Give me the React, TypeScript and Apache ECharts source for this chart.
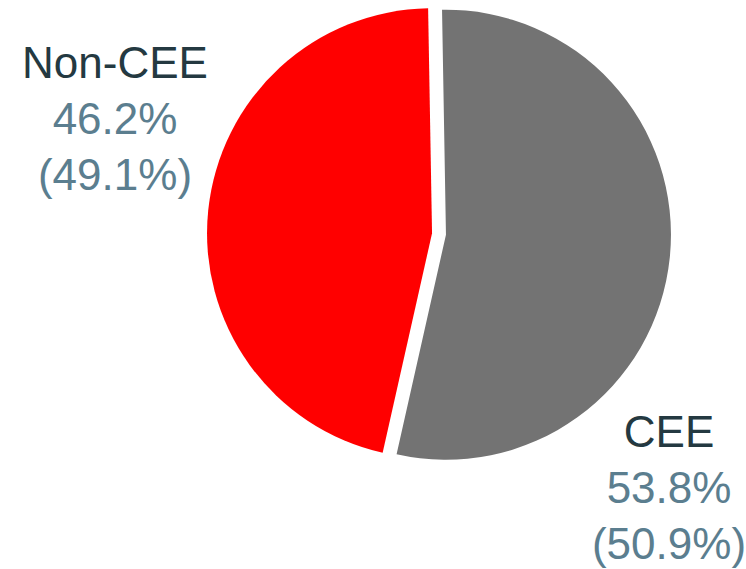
import React, { useEffect, useRef } from "react";
import * as echarts from "echarts";

const categories = ["CEE", "Non-CEE"];
const shares = [53.8, 46.2];
const priorShares = [50.9, 49.1];
const sliceColors = ["#737373", "#FF0000"];
const labelPositions = [
  { x: 669, y: 487 },
  { x: 115, y: 118 },
];

const FONT = "Liberation Sans, Arial, sans-serif";
const LINE = 56;

export default function App() {
  const ref = useRef<HTMLDivElement>(null);

  useEffect(() => {
    if (!ref.current) return;
    const chart = echarts.init(ref.current, null, { renderer: "svg" });
    const data = categories.map((name, i) => ({
      name,
      value: shares[i],
      selected: true,
      itemStyle: { color: sliceColors[i] },
      select: { itemStyle: { color: sliceColors[i] } },
    }));
    const labels: any[] = [];
    categories.forEach((name, i) => {
      const lines = [
        { text: name, color: "#243941" },
        { text: `${shares[i].toFixed(1)}%`, color: "#5b7e8f" },
        { text: `(${priorShares[i].toFixed(1)}%)`, color: "#5b7e8f" },
      ];
      lines.forEach((ln, k) => {
        labels.push({
          type: "text",
          x: labelPositions[i].x,
          y: labelPositions[i].y + (k - 1) * LINE,
          silent: true,
          style: {
            text: ln.text,
            fill: ln.color,
            font: `44px ${FONT}`,
            lineHeight: 44,
            align: "center",
            verticalAlign: "middle",
          },
        });
      });
    });
    chart.setOption({
      animation: false,
      backgroundColor: "#ffffff",
      graphic: labels,
      series: [
        {
          type: "pie",
          center: [439, 234],
          radius: 225,
          startAngle: 91,
          clockwise: true,
          selectedMode: "multiple",
          selectedOffset: 7,
          avoidLabelOverlap: false,
          emphasis: { disabled: true },
          data,
          label: { show: false },
          labelLine: { show: false },
        },
      ],
    });
    return () => chart.dispose();
  }, []);

  return (
    <div
      ref={ref}
      style={{ position: "absolute", left: 0, top: 0, width: 746, height: 569 }}
    />
  );
}
